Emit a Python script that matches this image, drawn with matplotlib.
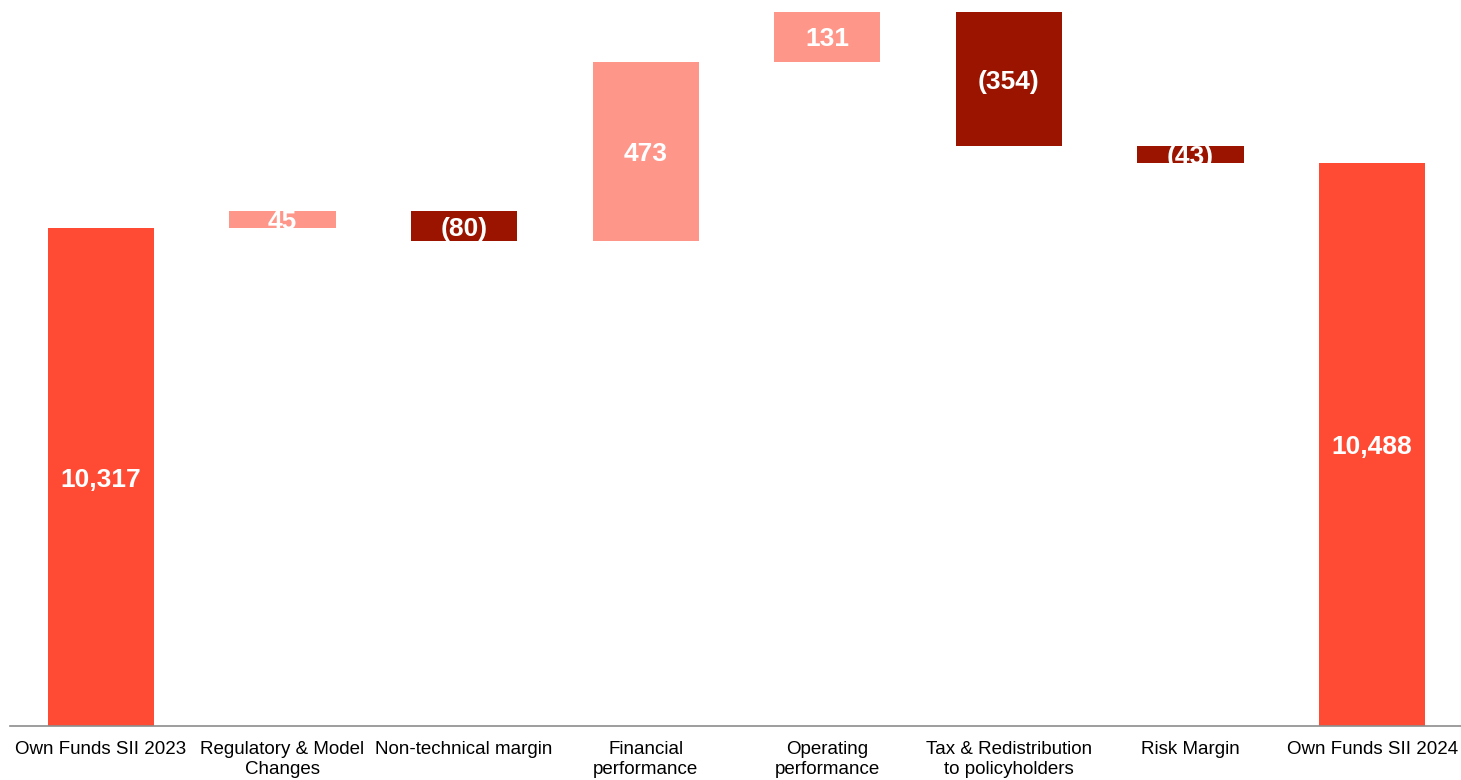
import matplotlib
matplotlib.use("Agg")
import matplotlib.pyplot as plt
import matplotlib.transforms as mtransforms

categories = ["Own Funds SII 2023", "Regulatory & Model\nChanges", "Non-technical margin",
              "Financial\nperformance", "Operating\nperformance",
              "Tax & Redistribution\nto policyholders", "Risk Margin", "Own Funds SII 2024"]
values = [10317, 45, -80, 473, 131, -354, -43, 10488]
labels = ["10,317", "45", "(80)", "473", "131", "(354)", "(43)", "10,488"]
kinds = ["total", "delta", "delta", "delta", "delta", "delta", "delta", "total"]

col_total = "#FF4B33"
col_up = "#FF968A"
col_down = "#9B1400"

y_min, y_max = 9007, 10917

plt.rcParams['font.family'] = ['Liberation Sans', 'DejaVu Sans']
fig = plt.figure(figsize=(14.61, 7.8), dpi=100)
ax = fig.add_axes([10 / 1461, 54 / 780, 1453 / 1461, 726 / 780])

# nudge value labels slightly downward
label_tf = ax.transData + mtransforms.ScaledTranslation(0, -2.5 / 100, fig.dpi_scale_trans)

running = 0
for i, (v, lab, kind) in enumerate(zip(values, labels, kinds)):
    if kind == "total":
        bottom, height, color = y_min - 10, v - y_min + 10, col_total
        running = v
        mid = (y_min + v) / 2
    else:
        start = running
        running = running + v
        bottom, height = min(start, running), abs(v)
        color = col_up if v >= 0 else col_down
        mid = bottom + height / 2
    ax.bar(i, height, bottom=bottom, width=0.585, color=color, zorder=2)
    ax.text(i, mid, lab, ha="center", va="center", color="white",
            fontsize=19, fontweight="bold", zorder=3, transform=label_tf)

ax.set_xlim(-0.5, len(values) - 0.5)
ax.set_ylim(y_min, y_max)
for s in ["top", "right", "left"]:
    ax.spines[s].set_visible(False)
ax.spines["bottom"].set_color("#8c8c8c")
ax.spines["bottom"].set_linewidth(1.2)
ax.spines["bottom"].set_zorder(4)
ax.set_yticks([])
ax.set_xticks(range(len(categories)))
ax.set_xticklabels(categories, fontsize=13.5, linespacing=1.2)
ax.tick_params(axis="x", length=0, pad=11)

fig.savefig("out.png", dpi=100)
